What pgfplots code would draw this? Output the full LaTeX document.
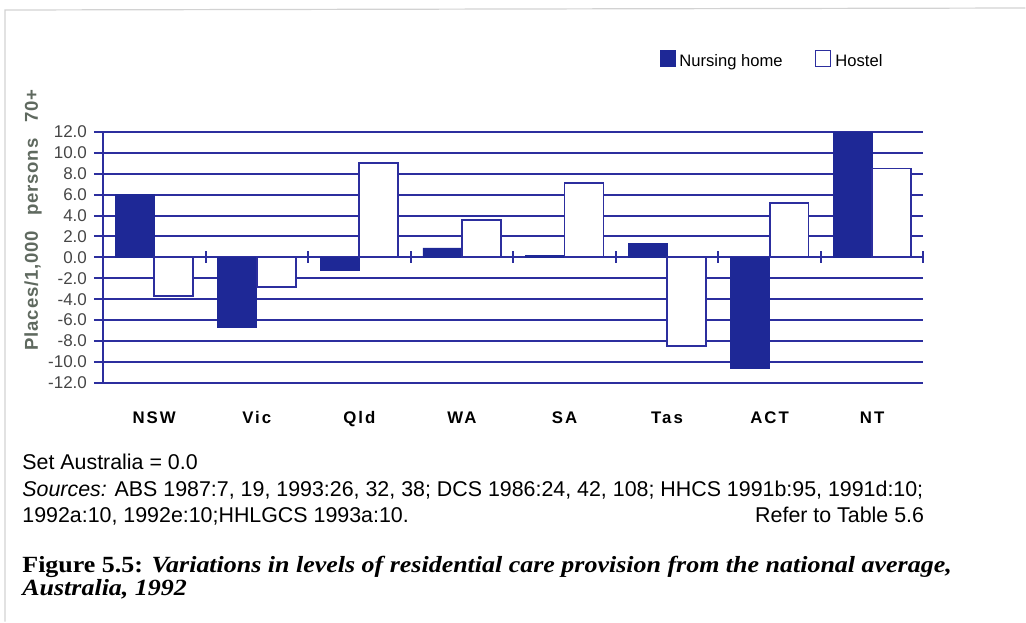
\documentclass[border=0pt]{standalone}
\usepackage{pgfplots}
\pgfplotsset{compat=1.18}
\usepackage{pgfplotstable}
\usepackage{fontspec}
\setmainfont{Liberation Sans}
\newfontfamily\capserif[FakeStretch=1.12]{Liberation Serif}

\definecolor{gridblue}{RGB}{44,46,158}
\definecolor{nhblue}{RGB}{30,40,150}
\definecolor{ticktext}{RGB}{70,70,70}
\definecolor{ylab}{RGB}{95,105,95}

\pgfplotsset{sqlegend/.style={legend image code/.code={\draw[##1] (0pt,-2pt) rectangle (7.5pt,6pt);}}}

% difference from the national average, places per 1,000 persons 70+
\pgfplotstableread{
pos nh hostel
0 6.0 -3.7
1 -6.7 -2.8
2 -1.2 9.0
3 0.9 3.6
4 0.2 7.1
5 1.3 -8.5
6 -10.6 5.2
7 12.0 8.5
}\care

\begin{document}
\begin{tikzpicture}
% page frame, 1px = 0.5pt, origin top left
\path (0,0) rectangle (513pt,-311pt);
\draw[gray!35, line width=0.6pt] (2.5pt,-311pt) -- (2.5pt,-5pt) -- (513pt,-4pt);

\begin{axis}[
    at={(51.5pt,-191.5pt)}, anchor=south west,
    scale only axis,
    width=410.5pt, height=125.5pt,
    xmin=-0.5, xmax=7.5,
    ymin=-12, ymax=12,
    clip=false,
    axis x line=bottom, axis y line=left,
    axis line style={gridblue, line width=1pt, -},
    xtick={0,...,7},
    xticklabels={NSW, Vic, Qld, WA, SA, Tas, ACT, NT},
    x tick style={draw=none},
    xticklabel style={font=\bfseries\fontsize{8.4}{9}\selectfont\addfontfeature{LetterSpace=12},
        text height=6.5pt, text depth=0pt, yshift=-6pt},
    ytick={-12,-10,...,12},
    y tick style={gridblue, line width=1pt},
    tick align=outside, major tick length=4.5pt,
    yticklabel style={/pgf/number format/.cd, fixed, fixed zerofill, precision=1, assume math mode=true, /tikz/.cd,
        font=\fontsize{8.5}{9}\selectfont, text=ticktext},
    ymajorgrids,
    grid style={gridblue, line width=1pt},
    legend style={at={(0.678,1.33)}, anchor=north west, draw=none, fill=none,
        legend columns=2, font=\fontsize{8.3}{9}\selectfont, inner sep=0pt,
        /tikz/every even column/.append style={column sep=14pt}},
]
\addplot[ybar, bar width=19.5pt, bar shift=-9.75pt, fill=nhblue, draw=nhblue, sqlegend]
    table[x=pos, y=nh] {\care};
\addplot[ybar, bar width=19.5pt, bar shift=9.75pt, fill=white, draw=gridblue, line width=0.9pt, sqlegend]
    table[x=pos, y=hostel] {\care};
\addplot[forget plot, only marks, mark=|, mark size=3pt, gridblue, line width=1pt]
    coordinates {(0.5,0) (1.5,0) (2.5,0) (3.5,0) (4.5,0) (5.5,0) (6.5,0) (7.5,0)};
\legend{Nursing home, Hostel}
\end{axis}

\node[rotate=90, font=\bfseries\fontsize{9.3}{10}\selectfont\addfontfeature{LetterSpace=4}, text=ylab] at (16.5pt,-110pt)
    {Places/1,000\hspace{8pt}persons\hspace{8pt}70+};

\node[anchor=base west, inner sep=0pt, font=\fontsize{10.7}{12}\selectfont] at (11pt,-235pt) {Set Australia = 0.0};
\node[anchor=base west, inner sep=0pt, font=\fontsize{10.7}{12}\selectfont] at (11pt,-248.5pt)
    {\textit{Sources:} ABS 1987:7, 19, 1993:26, 32, 38; DCS 1986:24, 42, 108; HHCS 1991b:95, 1991d:10;};
\node[anchor=base west, inner sep=0pt, font=\fontsize{10.7}{12}\selectfont] at (11pt,-261.5pt)
    {1992a:10, 1992e:10;HHLGCS 1993a:10.};
\node[anchor=base east, inner sep=0pt, font=\fontsize{10.7}{12}\selectfont] at (462.5pt,-261.5pt) {Refer to Table 5.6};

\node[anchor=base west, inner sep=0pt, font=\capserif\fontsize{11.6}{13}\selectfont] at (11pt,-286.5pt)
    {\textbf{Figure 5.5:} \textbf{\textit{Variations in levels of residential care provision from the national average,}}};
\node[anchor=base west, inner sep=0pt, font=\capserif\fontsize{11.6}{13}\selectfont] at (11pt,-298pt)
    {\textbf{\textit{Australia, 1992}}};
\end{tikzpicture}
\end{document}
